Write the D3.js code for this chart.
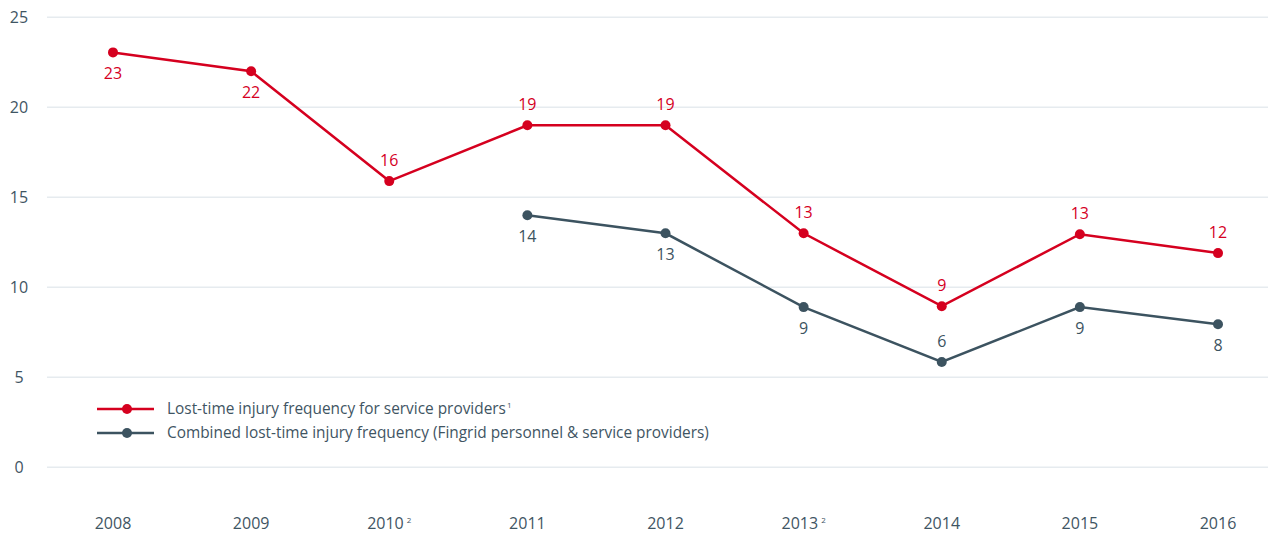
<!DOCTYPE html>
<html>
<head>
<meta charset="utf-8">
<script src="https://cdn.jsdelivr.net/npm/d3@7"></script>
<style>
  body { margin: 0; background: #fff; }
  svg text { font-family: "Open Sans", "Noto Sans", sans-serif; }
</style>
</head>
<body>
<div id="chart"></div>
<script>
// chart data
var years = ["2008", "2009", "2010", "2011", "2012", "2013", "2014", "2015", "2016"];
var yearNotes = ["", "", "2", "", "", "2", "", "", ""];
var serviceProviders = [23.05, 22.0, 15.9, 19.0, 19.0, 13.0, 8.95, 12.95, 11.9];
var serviceLabels = ["23", "22", "16", "19", "19", "13", "9", "13", "12"];
var combined = [null, null, null, 14.0, 13.0, 8.9, 5.85, 8.9, 7.95];
var combinedLabels = ["", "", "", "14", "13", "9", "6", "9", "8"];
var yTicks = [0, 5, 10, 15, 20, 25];
var legendNames = [
    "Lost-time injury frequency for service providers",
    "Combined lost-time injury frequency (Fingrid personnel & service providers)"
];

var svgWidth = 1268;
var svgHeight = 534;
var red = "#d5001f";
var slate = "#3c5360";
var textColor = "#3f5563";

var svg = d3.select("#chart")
    .append("svg")
    .attr("width", svgWidth)
    .attr("height", svgHeight);

var xScale = d3.scalePoint()
    .domain(years)
    .range([113, 1218]);

var yScale = d3.scaleLinear()
    .domain([0, 25])
    .range([467.3, 17.3]);

// grid lines + y labels
var grid = svg.append("g");
grid.selectAll("line")
    .data(yTicks)
    .enter()
    .append("line")
    .attr("x1", 47)
    .attr("x2", svgWidth)
    .attr("y1", d => yScale(d))
    .attr("y2", d => yScale(d))
    .attr("stroke", "#e6ebef")
    .attr("stroke-width", 1.5);

grid.selectAll("text")
    .data(yTicks)
    .enter()
    .append("text")
    .attr("x", 19)
    .attr("y", d => yScale(d) + 5.5)
    .attr("text-anchor", "middle")
    .style("font-size", "16px")
    .style("font-weight", 500)
    .attr("fill", textColor)
    .text(d => d);

// x axis labels
var xLabels = svg.append("g").selectAll("text")
    .data(years)
    .enter()
    .append("text")
    .attr("x", d => xScale(d))
    .attr("y", 529)
    .attr("text-anchor", "middle")
    .style("font-size", "16px")
    .style("font-weight", 500)
    .attr("fill", textColor);
xLabels.append("tspan").text(d => d);
xLabels.append("tspan")
    .attr("dx", 3)
    .attr("dy", -6)
    .style("font-size", "8px")
    .text((d, i) => yearNotes[i]);

var line = d3.line()
    .defined(d => d.v != null)
    .x(d => xScale(d.year))
    .y(d => yScale(d.v));

function drawSeries(values, labels, color, labelAbove) {
    var pts = years.map((y, i) => ({ year: y, v: values[i], label: labels[i], i: i }));
    var g = svg.append("g");
    g.append("path")
        .datum(pts)
        .attr("d", line)
        .attr("fill", "none")
        .attr("stroke", color)
        .attr("stroke-width", 2.5);
    var valid = pts.filter(d => d.v != null);
    g.selectAll("circle")
        .data(valid)
        .enter()
        .append("circle")
        .attr("cx", d => xScale(d.year))
        .attr("cy", d => yScale(d.v))
        .attr("r", 5)
        .attr("fill", color);
    g.selectAll("text")
        .data(valid)
        .enter()
        .append("text")
        .attr("x", d => xScale(d.year))
        .attr("y", d => labelAbove(d) ? yScale(d.v) - 15 : yScale(d.v) + 27)
        .attr("text-anchor", "middle")
        .style("font-size", "16px")
        .style("font-weight", 500)
        .attr("fill", color)
        .text(d => d.label);
}

drawSeries(serviceProviders, serviceLabels, red, d => d.i > 1);
drawSeries(combined, combinedLabels, slate, d => d.i == 6);

// legend
var legend = svg.append("g");
var legendColors = [red, slate];
legendNames.forEach((name, i) => {
    var ly = 409 + i * 24;
    legend.append("line")
        .attr("x1", 97).attr("x2", 154)
        .attr("y1", ly).attr("y2", ly)
        .attr("stroke", legendColors[i])
        .attr("stroke-width", 2.5);
    legend.append("circle")
        .attr("cx", 127).attr("cy", ly)
        .attr("r", 5)
        .attr("fill", legendColors[i]);
    var t = legend.append("text")
        .attr("x", 167)
        .attr("y", ly + 5)
        .style("font-size", "15.4px")
        .style("font-weight", 500)
        .attr("fill", textColor);
    t.append("tspan").text(name);
    if (i == 0) {
        t.append("tspan")
            .attr("dx", 1)
            .attr("dy", -6)
            .style("font-size", "8px")
            .text("1");
    }
});
</script>
</body>
</html>
